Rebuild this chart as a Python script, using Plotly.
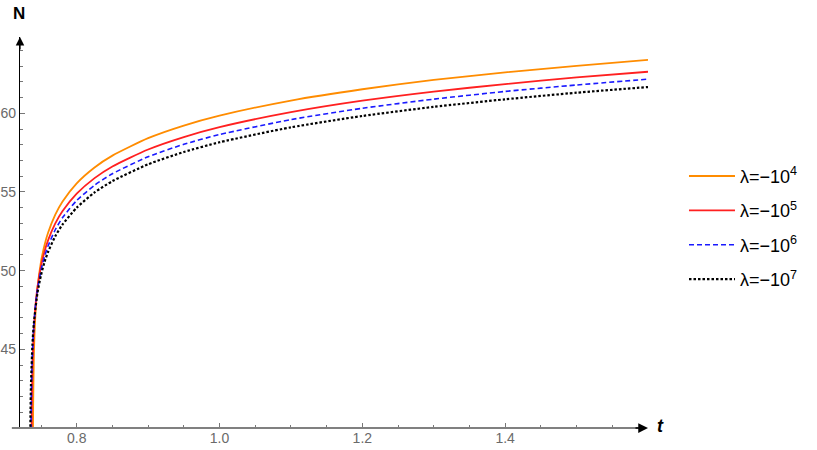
import plotly.graph_objects as go

# ---- data ----
t_o = [0.7388, 0.739, 0.740, 0.742, 0.745, 0.75, 0.755, 0.76, 0.77, 0.78, 0.80, 0.825, 0.85, 0.90, 0.95, 1.0, 1.1, 1.2, 1.3, 1.4, 1.5, 1.6]
n_o = [39.7, 41.26, 44.52, 47.03, 48.87, 50.57, 51.64, 52.42, 53.56, 54.38, 55.55, 56.56, 57.31, 58.42, 59.22, 59.85, 60.81, 61.53, 62.12, 62.60, 63.02, 63.39]

t_r = [0.7369, 0.7372, 0.738, 0.740, 0.742, 0.745, 0.75, 0.755, 0.76, 0.77, 0.78, 0.80, 0.825, 0.85, 0.90, 0.95, 1.0, 1.1, 1.2, 1.3, 1.4, 1.5, 1.6]
n_r = [39.8, 41.51, 43.77, 46.28, 47.63, 48.92, 50.29, 51.23, 51.94, 53.00, 53.77, 54.89, 55.88, 56.62, 57.70, 58.49, 59.12, 60.07, 60.80, 61.38, 61.86, 62.28, 62.64]

t_b = [0.7359, 0.7362, 0.737, 0.739, 0.742, 0.745, 0.75, 0.755, 0.76, 0.77, 0.78, 0.80, 0.825, 0.85, 0.90, 0.95, 1.0, 1.1, 1.2, 1.3, 1.4, 1.5, 1.6]
n_b = [39.4, 41.03, 43.29, 45.80, 47.64, 48.77, 50.03, 50.91, 51.58, 52.60, 53.36, 54.46, 55.43, 56.16, 57.24, 58.03, 58.65, 59.60, 60.32, 60.90, 61.39, 61.80, 62.17]

t_k = [0.7350, 0.7353, 0.736, 0.738, 0.740, 0.745, 0.75, 0.755, 0.76, 0.77, 0.78, 0.80, 0.825, 0.85, 0.90, 0.95, 1.0, 1.1, 1.2, 1.3, 1.4, 1.5, 1.6]
n_k = [39.5, 40.92, 42.79, 45.30, 46.65, 48.57, 49.72, 50.56, 51.20, 52.19, 52.92, 54.00, 54.97, 55.69, 56.76, 57.54, 58.16, 59.11, 59.83, 60.41, 60.89, 61.31, 61.67]

labels = ["λ=−10<sup>4</sup>", "λ=−10<sup>5</sup>", "λ=−10<sup>6</sup>", "λ=−10<sup>7</sup>"]
x_major = [0.8, 1.0, 1.2, 1.4]
x_labels = ["0.8", "1.0", "1.2", "1.4"]
y_major = [45, 50, 55, 60]
y_labels = ["45", "50", "55", "60"]

series = [
    (t_o, n_o, labels[0], dict(color="#ff8c00", width=1.8)),
    (t_r, n_r, labels[1], dict(color="#ff2020", width=1.8)),
    (t_b, n_b, labels[2], dict(color="#1a1aff", width=1.6, dash="5px,3px")),
    (t_k, n_k, labels[3], dict(color="#000000", width=2.2, dash="2.5px,2px")),
]

fig = go.Figure()
for i, (tx, ny, name, line) in enumerate(series):
    fig.add_trace(go.Scatter(x=tx, y=ny, mode="lines", name=name,
                             line=dict(shape="spline", smoothing=0.6, **line),
                             legendgroup=f"g{i}"))

tickfont = dict(family="Liberation Sans, Arial, sans-serif", size=14, color="#6a6a6a")

fig.update_layout(
    width=817, height=450,
    margin=dict(l=20, r=169, t=37, b=22, autoexpand=False),
    paper_bgcolor="white", plot_bgcolor="white",
    showlegend=True,
    legend=dict(x=1.0573, y=0.512, xanchor="left", yanchor="middle",
                itemwidth=46,
                font=dict(family="Liberation Sans, Arial, sans-serif", size=18, color="black"),
                tracegroupgap=8, bgcolor="rgba(0,0,0,0)"),
    xaxis=dict(range=[0.7206, 1.6], showgrid=False, zeroline=False, showline=False,
               automargin=False,
               tickmode="array", tickvals=x_major, ticktext=x_labels,
               ticks="inside", ticklen=5, tickcolor="#777", tickwidth=1,
               minor=dict(tickmode="linear", tick0=0.8, dtick=0.05, ticks="inside",
                          ticklen=3, tickcolor="#777", tickwidth=1),
               tickfont=tickfont),
    yaxis=dict(range=[40, 64.85], showgrid=False, zeroline=False, showline=True,
               automargin=False,
               linecolor="black", linewidth=1.3,
               tickmode="array", tickvals=y_major, ticktext=y_labels,
               ticks="inside", ticklen=5, tickcolor="#777", tickwidth=1,
               minor=dict(tickmode="linear", tick0=40, dtick=1, ticks="inside",
                          ticklen=3, tickcolor="#777", tickwidth=1),
               tickfont=tickfont),
)

# x axis line (extends a bit to the left of the y axis, as in the reference)
fig.add_shape(type="line", xref="paper", yref="paper", x0=-0.013, x1=0.985, y0=0, y1=0,
              line=dict(color="#808080", width=2), layer="above")

# axis arrows
fig.add_annotation(xref="paper", yref="paper", x=0, y=1, ax=0, ay=14, text="",
                   showarrow=True, arrowhead=2, arrowsize=1.3, arrowwidth=1.3,
                   arrowcolor="black", standoff=0)
fig.add_annotation(xref="paper", yref="paper", x=1, y=0, ax=-14, ay=0, text="",
                   showarrow=True, arrowhead=2, arrowsize=1.3, arrowwidth=1.5,
                   arrowcolor="black", standoff=0)

# axis titles
fig.add_annotation(xref="paper", yref="paper", x=-0.001, y=1.059, text="<b>N</b>",
                   showarrow=False, xanchor="center", yanchor="middle",
                   font=dict(family="Liberation Sans, Arial, sans-serif", size=17, color="black"))
fig.add_annotation(xref="paper", yref="paper", x=1.0207, y=0.004, text="<b><i>t</i></b>",
                   showarrow=False, xanchor="center", yanchor="middle",
                   font=dict(family="Liberation Sans, Arial, sans-serif", size=18, color="black"))

fig.write_html("out.html", config={"displayModeBar": False},
               post_script="document.body.style.margin='0px';")
